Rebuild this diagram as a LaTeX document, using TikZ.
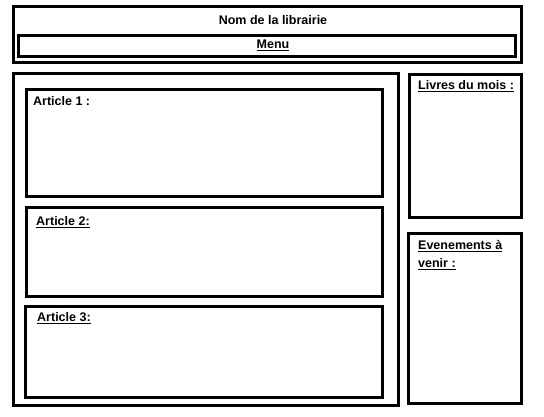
\documentclass[tikz,border=0pt]{standalone}
\usepackage{fontspec}
\setmainfont{Liberation Sans}
\usepackage{tikz}
\usetikzlibrary{calc}

\tikzset{
 boite/.style={line width=3pt},
 titre/.style={font=\bfseries\fontsize{12.5}{18}\selectfont, inner sep=0pt},
 etiq/.style={titre, anchor=west, align=left}
}
\newcommand{\souligne}[1]{\underline{#1}}

\begin{document}
\begin{tikzpicture}[x=1pt,y=-1pt]
 \useasboundingbox (0,0) rectangle (544,416);
 %% en-tete
 \draw[boite] (13,6) rectangle (521.5,62);
 \draw[boite] (18,35) rectangle (515.5,56);
 \node[titre] (nom) at (273,20.5) {Nom de la librairie};
 \node[titre] (menu) at (273,45) {\souligne{Menu}};

 %% colonne des articles
 \draw[boite] (13,73) rectangle (398,405.5);
 \draw[boite] (26,89) rectangle (382.5,196);
 \node[etiq] (art1) at (33,101.5) {Article 1 :};
 \draw[boite] (26,207) rectangle (382.5,296.5);
 \node[etiq] (art2) at (36,222.5) {\souligne{Article 2:}};
 \draw[boite] (25,306) rectangle (382.5,397);
 \node[etiq] (art3) at (37,318.5) {\souligne{Article 3:}};

 %% colonne de droite
 \draw[boite] (409.5,74) rectangle (521.5,217);
 \node[etiq] (livres) at (418,86.5) {\souligne{Livres du mois :}};
 \draw[boite] (408.5,233) rectangle (521.5,403.5);
 \node[etiq, anchor=north west] (even) at (418,240.5) {\souligne{Evenements à}\\\souligne{venir :}};
\end{tikzpicture}
\end{document}
